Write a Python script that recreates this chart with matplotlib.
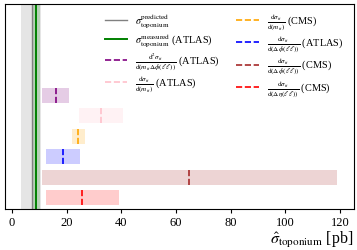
import matplotlib
matplotlib.use("Agg")
import matplotlib.pyplot as plt

plt.rcParams['font.family'] = ['Liberation Serif', 'DejaVu Serif']
plt.rcParams['mathtext.fontset'] = 'stix'

# Data
pred_central = 7.2
pred_lo, pred_hi = 3.3, 10.6
meas_central = 8.9
meas_lo, meas_hi = 7.7, 10.3

labels = [
    r'$\frac{\mathrm{d}^2\sigma_{tt}}{\mathrm{d}(m_{tt}\Delta\phi(\ell\ell))}$ (ATLAS)',
    r'$\frac{\mathrm{d}\sigma_{tt}}{\mathrm{d}(m_{tt})}$ (ATLAS)',
    r'$\frac{\mathrm{d}\sigma_{tt}}{\mathrm{d}(m_{tt})}$ (CMS)',
    r'$\frac{\mathrm{d}\sigma_{tt}}{\mathrm{d}(\Delta\phi(\ell\ell))}$ (ATLAS)',
    r'$\frac{\mathrm{d}\sigma_{tt}}{\mathrm{d}(\Delta\phi(\ell\ell))}$ (CMS)',
    r'$\frac{\mathrm{d}\sigma_{tt}}{\mathrm{d}(\Delta\eta(\ell\ell))}$ (CMS)',
]
centrals = [16.1, 32.6, 24.2, 18.6, 64.8, 25.7]
lows = [11.2, 24.7, 22.0, 12.5, 11.2, 12.4]
highs = [20.9, 40.5, 26.8, 24.9, 118.7, 39.1]
colors = ['purple', 'pink', 'orange', 'blue', 'brown', 'red']
rows = [5, 4, 3, 2, 1, 0]
xticks = [0, 20, 40, 60, 80, 100, 120]

fig = plt.figure(figsize=(3.57, 2.51), dpi=100)
ax = fig.add_axes([0.014, 0.163, 0.977, 0.817])

ax.axvspan(pred_lo, pred_hi, color='gray', alpha=0.2, lw=0)
ax.axvspan(meas_lo, meas_hi, color='green', alpha=0.2, lw=0)
ax.axvline(pred_central, color='gray', lw=1.0, label=r'$\sigma^{\mathrm{predicted}}_{\mathrm{toponium}}$')
ax.axvline(meas_central, color='green', lw=1.4, label=r'$\sigma^{\mathrm{measured}}_{\mathrm{toponium}}$ (ATLAS)')

h = 0.72
for y, c, lo, hi, cen, lab in zip(rows, colors, lows, highs, centrals, labels):
    ax.barh(y, hi - lo, left=lo, height=h, color=c, alpha=0.2, lw=0)
    ax.vlines(cen, y - h / 2, y + h / 2, colors=c, linestyles='--', lw=1.2, label=lab)

ax.set_xlim(-2.5, 125)
ax.set_ylim(-0.55, 9.45)
ax.set_yticks([])
ax.set_xticks(xticks)
ax.tick_params(axis='x', labelsize=9, length=3, pad=2)
ax.set_xlabel(r'$\hat{\sigma}_{\mathrm{toponium}}$ [pb]', fontsize=11.5, loc='right', labelpad=1)

ax.legend(loc='upper right', ncol=2, frameon=False, fontsize=7.4,
          handlelength=2.15, handletextpad=0.8, columnspacing=1.6, labelspacing=0.2,
          bbox_to_anchor=(0.99, 1.0), borderaxespad=0.3)

fig.savefig('out.png', dpi=100)
